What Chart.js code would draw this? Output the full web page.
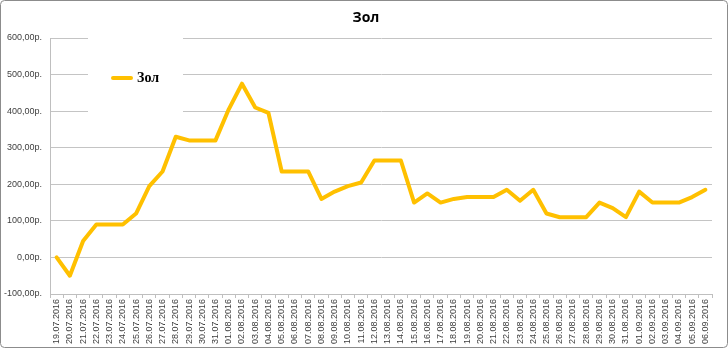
<!DOCTYPE html>
<html>
<head>
<meta charset="utf-8">
<script src="https://cdn.jsdelivr.net/npm/chart.js@4/dist/chart.umd.min.js"></script>
<style>
  html, body { margin: 0; padding: 0; background: #fff; }
  #wrap { width: 728px; height: 348px; position: relative; }
</style>
</head>
<body>
<div id="wrap"><canvas id="c" width="728" height="348"></canvas></div>
<script>
const chartTitle = "Зол";
const seriesName = "Зол";
const categories = [
  "19.07.2016","20.07.2016","21.07.2016","22.07.2016","23.07.2016","24.07.2016","25.07.2016",
  "26.07.2016","27.07.2016","28.07.2016","29.07.2016","30.07.2016","31.07.2016","01.08.2016",
  "02.08.2016","03.08.2016","04.08.2016","05.08.2016","06.08.2016","07.08.2016","08.08.2016",
  "09.08.2016","10.08.2016","11.08.2016","12.08.2016","13.08.2016","14.08.2016","15.08.2016",
  "16.08.2016","17.08.2016","18.08.2016","19.08.2016","20.08.2016","21.08.2016","22.08.2016",
  "23.08.2016","24.08.2016","25.08.2016","26.08.2016","27.08.2016","28.08.2016","29.08.2016",
  "30.08.2016","31.08.2016","01.09.2016","02.09.2016","03.09.2016","04.09.2016","05.09.2016",
  "06.09.2016"
];
const values = [
  0, -50, 45, 90, 90, 90, 120,
  195, 235, 330, 320, 320, 320, 405,
  475, 410, 395, 235, 235, 235, 160,
  180, 195, 205, 265, 265, 265, 150,
  175, 150, 160, 165, 165, 165, 185,
  155, 185, 120, 110, 110, 110, 150,
  135, 110, 180, 150, 150, 150, 165,
  185
];
const yMin = -100, yMax = 600, yStep = 100;

const lineColor = "#FFC000";

const decorPlugin = {
  id: "decor",
  beforeDatasetsDraw(chart) {
    const ctx = chart.ctx;
    ctx.save();
    // legend box (white, covers gridlines)
    ctx.fillStyle = "#ffffff";
    ctx.fillRect(88, 34, 95, 90);
    // legend sample line
    ctx.strokeStyle = lineColor;
    ctx.lineWidth = 4;
    ctx.lineCap = "round";
    ctx.beginPath();
    ctx.moveTo(113, 78);
    ctx.lineTo(131, 78);
    ctx.stroke();
    // legend text
    ctx.fillStyle = "#000000";
    ctx.font = "bold 14px 'Liberation Serif', serif";
    ctx.textBaseline = "middle";
    ctx.textAlign = "left";
    ctx.fillText(seriesName, 137, 78);
    ctx.restore();
  },
  afterDraw(chart) {
    const ctx = chart.ctx;
    ctx.save();
    // title
    ctx.fillStyle = "#000000";
    ctx.font = "bold 14px 'Open Sans', sans-serif";
    ctx.textAlign = "center";
    ctx.textBaseline = "middle";
    ctx.fillText(chartTitle, 366, 18);
    // outer border
    ctx.strokeStyle = "#8c8c8c";
    ctx.lineWidth = 1;
    const r = 4, x = 0.5, y = 0.5, w = 727, h = 347;
    ctx.beginPath();
    ctx.moveTo(x + r, y);
    ctx.lineTo(x + w - r, y);
    ctx.quadraticCurveTo(x + w, y, x + w, y + r);
    ctx.lineTo(x + w, y + h - r);
    ctx.quadraticCurveTo(x + w, y + h, x + w - r, y + h);
    ctx.lineTo(x + r, y + h);
    ctx.quadraticCurveTo(x, y + h, x, y + h - r);
    ctx.lineTo(x, y + r);
    ctx.quadraticCurveTo(x, y, x + r, y);
    ctx.stroke();
    ctx.restore();
  }
};

new Chart(document.getElementById("c"), {
  type: "line",
  data: {
    labels: categories,
    datasets: [{
      label: seriesName,
      data: values,
      borderColor: lineColor,
      backgroundColor: lineColor,
      borderWidth: 4,
      pointRadius: 0,
      pointHoverRadius: 0,
      tension: 0,
      borderJoinStyle: "round",
      borderCapStyle: "round"
    }]
  },
  options: {
    responsive: false,
    animation: false,
    events: [],
    layout: { padding: { left: 0, top: 38, right: 16, bottom: 0 } },
    plugins: {
      legend: { display: false },
      title: { display: false },
      tooltip: { enabled: false }
    },
    scales: {
      x: {
        offset: true,
        grid: {
          offset: true,
          drawOnChartArea: false,
          drawTicks: true,
          tickLength: 4,
          color: "#bfbfbf"
        },
        border: { color: "#bfbfbf", width: 1 },
        ticks: {
          autoSkip: false,
          minRotation: 90,
          maxRotation: 90,
          padding: 1,
          color: "#404040",
          font: { family: "'Liberation Sans', sans-serif", size: 9 }
        },
        afterFit(scale) { scale.height = 54; }
      },
      y: {
        min: yMin,
        max: yMax,
        grid: {
          color: "#c4c4c4",
          drawTicks: false
        },
        border: { color: "#bfbfbf", width: 1 },
        ticks: {
          stepSize: yStep,
          padding: 8,
          color: "#404040",
          font: { family: "'Liberation Sans', sans-serif", size: 9 },
          callback: (v) => v.toFixed(2).replace(".", ",") + "р."
        },
        afterFit(scale) { scale.width = 50; }
      }
    }
  },
  plugins: [decorPlugin]
});
</script>
</body>
</html>
